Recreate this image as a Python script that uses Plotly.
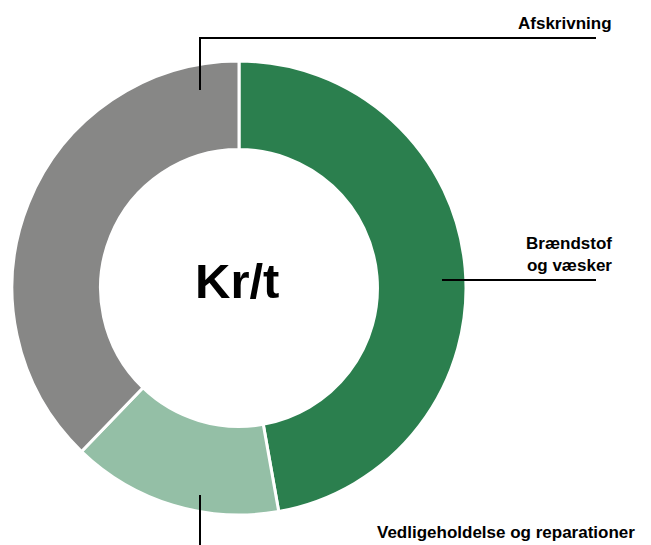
import plotly.graph_objects as go

W, H = 651, 545
categories = ["Brændstof og væsker", "Vedligeholdelse og reparationer", "Afskrivning"]
values = [47.2, 15.0, 37.8]
colors = ["#2b7f4e", "#94bfa6", "#878786"]

cx, cy, r = 239, 288, 227

def px(x):
    return x / W

def py(y):
    return 1 - y / H

fig = go.Figure(go.Pie(
    labels=categories, values=values, sort=False, direction="clockwise", rotation=0,
    hole=0.61, marker=dict(colors=colors, line=dict(color="white", width=3)),
    textinfo="none", hoverinfo="label+percent", showlegend=False,
    domain=dict(x=[px(cx - r), px(cx + r)], y=[py(cy + r), py(cy - r)]),
))

font = "Liberation Sans, Arial, sans-serif"
shapes = [
    dict(type="path", xref="paper", yref="paper",
         path=f"M {px(200)},{py(90)} L {px(200)},{py(38)} L {px(596)},{py(38)}",
         line=dict(color="black", width=2)),
    dict(type="line", xref="paper", yref="paper", x0=px(442), y0=py(280), x1=px(596), y1=py(280),
         line=dict(color="black", width=2)),
    dict(type="line", xref="paper", yref="paper", x0=px(200), y0=py(495), x1=px(200), y1=py(546),
         line=dict(color="black", width=2)),
]
annotations = [
    dict(text="<b>Afskrivning</b>", x=px(614), y=py(23), xref="paper", yref="paper",
         xanchor="right", yanchor="middle", showarrow=False, font=dict(family=font, size=17, color="black")),
    dict(text="<b>Brændstof<br>og væsker</b>", x=px(614), y=py(254), xref="paper", yref="paper",
         xanchor="right", yanchor="middle", align="right", showarrow=False,
         font=dict(family=font, size=17, color="black")),
    dict(text="<b>Vedligeholdelse og reparationer</b>", x=px(637), y=py(532), xref="paper", yref="paper",
         xanchor="right", yanchor="middle", showarrow=False, font=dict(family=font, size=17, color="black")),
    dict(text="<b>Kr/t</b>", x=px(237), y=py(281), xref="paper", yref="paper",
         xanchor="center", yanchor="middle", showarrow=False, font=dict(family=font, size=49, color="black")),
]

fig.update_layout(width=W, height=H, margin=dict(l=0, r=0, t=0, b=0),
                  paper_bgcolor="white", plot_bgcolor="white",
                  shapes=shapes, annotations=annotations)
fig.write_html("out.html", config={"displayModeBar": False},
               post_script="document.body.style.margin='0';document.body.style.overflow='hidden';")
